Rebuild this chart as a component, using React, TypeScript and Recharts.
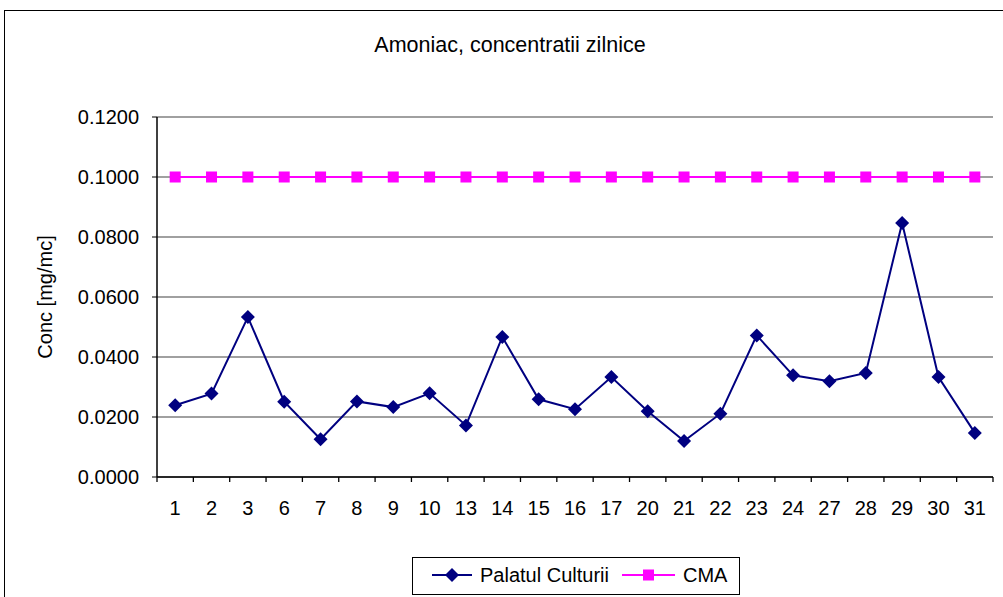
import React from "react";
import {
  CartesianGrid,
  Legend,
  Line,
  LineChart,
  XAxis,
  YAxis,
} from "recharts";

const days = [
  "1", "2", "3", "6", "7", "8", "9", "10", "13", "14", "15", "16",
  "17", "20", "21", "22", "23", "24", "27", "28", "29", "30", "31",
];

const palatulCulturii = [
  0.0239, 0.0278, 0.0533, 0.0251, 0.0126, 0.0252, 0.0233, 0.0279, 0.0172,
  0.0467, 0.0259, 0.0226, 0.0333, 0.0219, 0.012, 0.0211, 0.0472, 0.0339,
  0.0319, 0.0347, 0.0847, 0.0333, 0.0147,
];

const cma = [
  0.1, 0.1, 0.1, 0.1, 0.1, 0.1, 0.1, 0.1, 0.1, 0.1, 0.1, 0.1,
  0.1, 0.1, 0.1, 0.1, 0.1, 0.1, 0.1, 0.1, 0.1, 0.1, 0.1,
];

const yTicks = [0, 0.02, 0.04, 0.06, 0.08, 0.1, 0.12];

const data = days.map((d, i) => ({
  day: d,
  palatul: palatulCulturii[i],
  cma: cma[i],
}));

const W = 1003;
const H = 597;
const LEFT = 157;
const RIGHT = 10;
const BAND = (W - LEFT - RIGHT) / days.length;
const FONT = '"Liberation Sans", Arial, sans-serif';
const NAVY = "#000080";
const MAGENTA = "#FF00FF";

const Diamond = (props: any) => {
  const { cx, cy, index } = props;
  if (cx == null || cy == null) return <g key={index} />;
  const r = 7;
  return (
    <path
      key={index}
      d={`M${cx},${cy - r} L${cx + r},${cy} L${cx},${cy + r} L${cx - r},${cy} Z`}
      fill={NAVY}
    />
  );
};

const Square = (props: any) => {
  const { cx, cy, index } = props;
  if (cx == null || cy == null) return <g key={index} />;
  return <rect key={index} x={cx - 5.5} y={cy - 5.5} width={11} height={11} fill={MAGENTA} />;
};

const DayTick = (props: any) => {
  const { x, y, payload, index } = props;
  return (
    <g>
      <line x1={x - BAND / 2} x2={x - BAND / 2} y1={y} y2={y + 5} stroke="#000" strokeWidth={1.3} />
      {index === days.length - 1 && (
        <line x1={x + BAND / 2} x2={x + BAND / 2} y1={y} y2={y + 5} stroke="#000" strokeWidth={1.3} />
      )}
      <text x={x} y={y + 38} textAnchor="middle" fill="#000" fontSize={20} fontFamily={FONT}>
        {payload.value}
      </text>
    </g>
  );
};

const ChartLegend = () => (
  <svg width={328} height={38} style={{ display: "block" }}>
    <rect x={0.5} y={0.5} width={327} height={37} fill="#fff" stroke="#000" strokeWidth={1} />
    <line x1={20} x2={60} y1={18} y2={18} stroke={NAVY} strokeWidth={2} />
    <path d="M40,11 L47,18 L40,25 L33,18 Z" fill={NAVY} />
    <text x={68} y={25} fontSize={20} fontFamily={FONT} fill="#000">
      Palatul Culturii
    </text>
    <line x1={210} x2={263} y1={18} y2={18} stroke={MAGENTA} strokeWidth={2} />
    <rect x={231} y={12.5} width={11} height={11} fill={MAGENTA} />
    <text x={271} y={25} fontSize={20} fontFamily={FONT} fill="#000">
      CMA
    </text>
  </svg>
);

export default function App() {
  return (
    <div
      style={{
        position: "absolute",
        left: 0,
        top: 0,
        width: W,
        height: H,
        overflow: "hidden",
        background: "#fff",
        fontFamily: FONT,
      }}
    >
      <LineChart
        width={W}
        height={H}
        data={data}
        margin={{ top: 117, right: RIGHT, bottom: 0, left: 0 }}
      >
        <CartesianGrid horizontal vertical={false} stroke="#808080" strokeWidth={1.5} />
        <XAxis
          dataKey="day"
          interval={0}
          height={120}
          padding={{ left: BAND / 2, right: BAND / 2 }}
          tickLine={false}
          tickSize={0}
          tickMargin={0}
          axisLine={{ stroke: "#000", strokeWidth: 1.5 }}
          tick={<DayTick />}
        />
        <YAxis
          width={LEFT}
          domain={[0, 0.12]}
          ticks={yTicks}
          tickFormatter={(v: number) => v.toFixed(4)}
          tick={{ fill: "#000", fontSize: 20, fontFamily: FONT }}
          tickSize={5}
          tickMargin={13}
          tickLine={{ stroke: "#000" }}
          axisLine={{ stroke: "#000", strokeWidth: 1.5 }}
          label={({ viewBox }: any) => {
            const cy = viewBox.y + viewBox.height / 2;
            return (
              <text
                x={52}
                y={cy}
                transform={`rotate(-90 52 ${cy})`}
                textAnchor="middle"
                fontSize={20}
                fontFamily={FONT}
                fill="#000"
              >
                Conc [mg/mc]
              </text>
            );
          }}
        />
        <YAxis
          yAxisId="edge"
          orientation="right"
          width={0}
          domain={[0, 0.12]}
          tick={false}
          tickLine={false}
          axisLine={{ stroke: "#808080", strokeWidth: 1.5 }}
        />
        <Legend
          layout="horizontal"
          verticalAlign="middle"
          align="center"
          wrapperStyle={{ left: 412, top: 557, width: 328, height: 38 }}
          content={() => <ChartLegend />}
        />
        <Line
          type="linear"
          dataKey="palatul"
          name="Palatul Culturii"
          stroke={NAVY}
          strokeWidth={2}
          dot={<Diamond />}
          activeDot={false}
          isAnimationActive={false}
        />
        <Line
          type="linear"
          dataKey="cma"
          name="CMA"
          stroke={MAGENTA}
          strokeWidth={2}
          dot={<Square />}
          activeDot={false}
          isAnimationActive={false}
        />
      </LineChart>
      <svg
        width={W}
        height={H}
        style={{ position: "absolute", left: 0, top: 0, pointerEvents: "none" }}
      >
        <rect x={4.5} y={10.5} width={1010} height={600} fill="none" stroke="#000" strokeWidth={1} />
        <text x={510} y={52} textAnchor="middle" fontSize={21.5} fontFamily={FONT} fill="#000">
          Amoniac, concentratii zilnice
        </text>
      </svg>
    </div>
  );
}
